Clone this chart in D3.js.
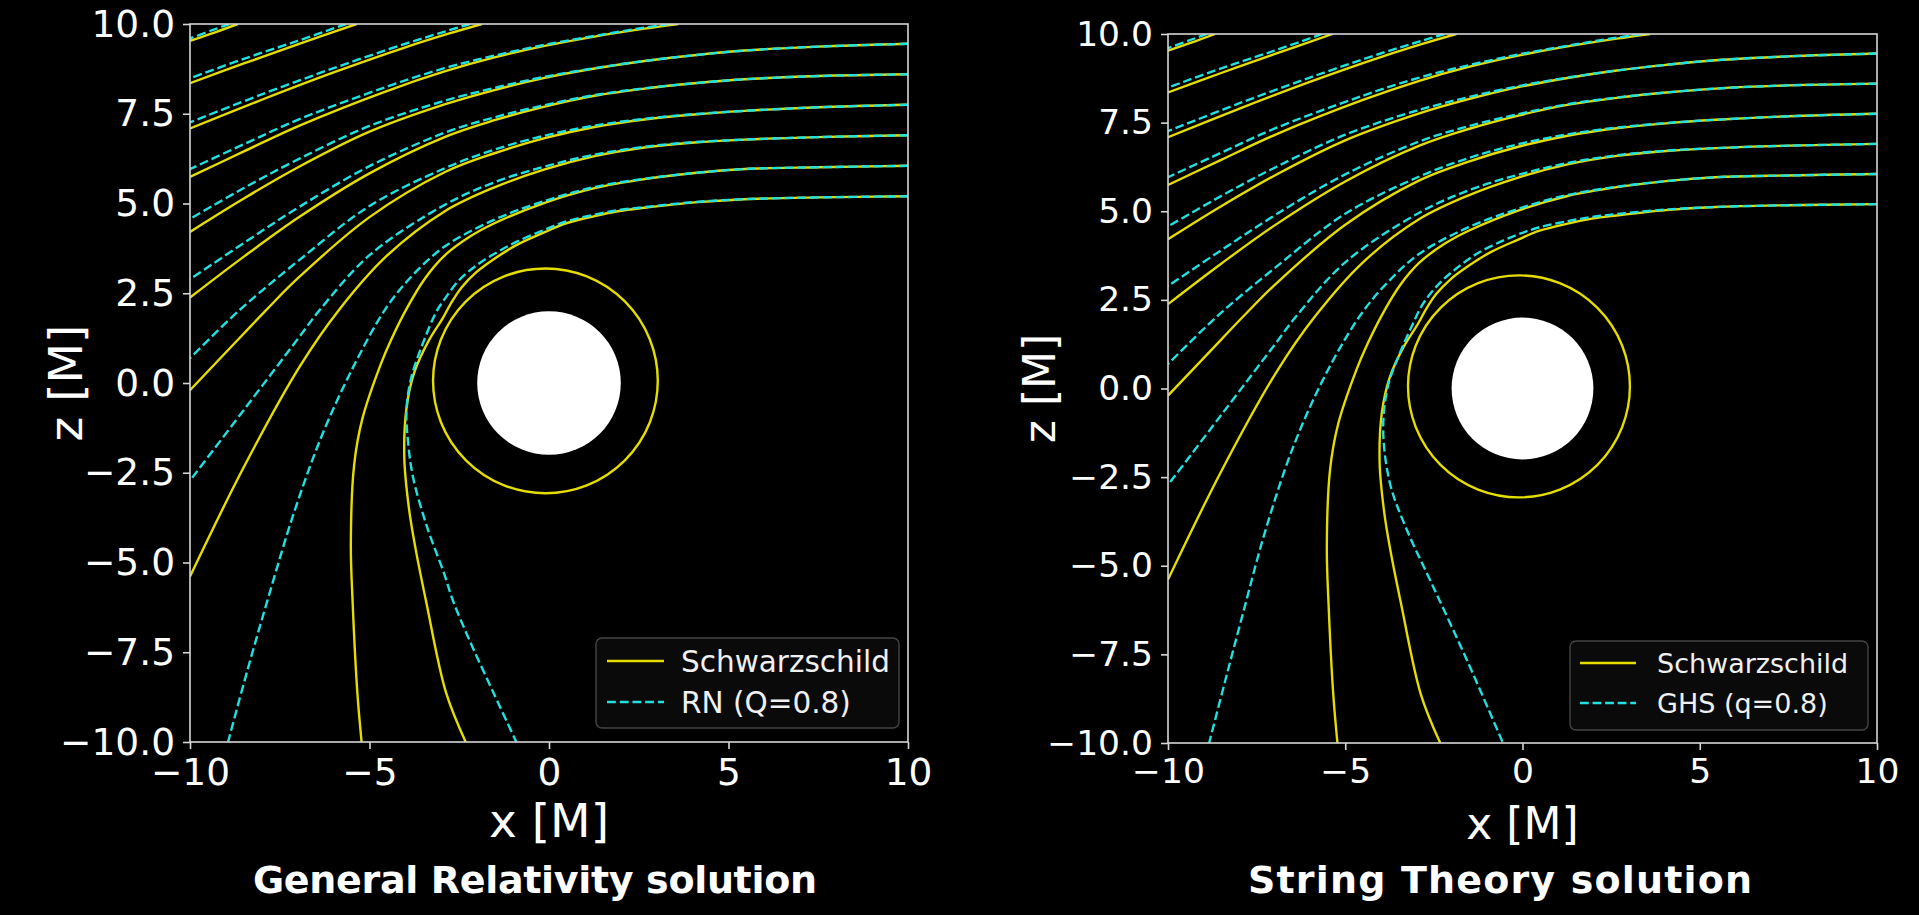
<!DOCTYPE html>
<html>
<head>
<meta charset="utf-8">
<script src="https://cdn.jsdelivr.net/npm/d3@7"></script>
<style>
  html, body { margin: 0; padding: 0; background: #000; }
  svg { display: block; }
</style>
</head>
<body>
<svg id="fig" width="1919" height="915"></svg>
<script>
// ---------------- DATA (units of M) ----------------
const xTicks = [-10, -5, 0, 5, 10];
const zTicks = [10, 7.5, 5, 2.5, 0, -2.5, -5, -7.5, -10];
const horizonRadius = 2;
// nearly circular orbit of the Schwarzschild b≈5.2 ray (centre x, centre z, radius)
const photonOrbit = { cx: -0.1, cz: 0.06, r: 3.13 };

const panelTitles = ["General Relativity solution", "String Theory solution"];
const legendLabelsGR = ["Schwarzschild", "RN (Q=0.8)"];
const legendLabelsST = ["Schwarzschild", "GHS (q=0.8)"];

// Schwarzschild rays (yellow), each [x, z] — same in both panels
const schw1 = [[10,5.2],[7.5,5.17],[5.45,5.12],[4.05,5.03],[2.66,4.88],[1.96,4.79],[1.27,4.65],[0.48,4.45],[-0.12,4.2],[-0.91,3.84],[-1.52,3.46],[-2.03,3.08],[-2.43,2.67],[-2.72,2.24],[-2.95,1.82],
  [-3.35,1.18],[-3.75,0.3],[-3.97,-0.7],[-4.03,-2.1],[-3.9,-3.5],[-3.72,-4.6],[-3.42,-6.1],[-2.87,-8.62],[-2.32,-10]];
const schw2 = [[10,6.05],[7.5,6.01],[5.45,5.96],[4.05,5.85],[2.66,5.68],[1.27,5.43],[-0.12,5.02],[-1.52,4.45],[-2.2,4.08],[-2.91,3.55],[-3.45,2.92],[-3.95,2.1],[-4.4,1.2],[-4.68,0.54],[-5.2,-1.0],[-5.43,-2.3],[-5.52,-4.5],[-5.47,-6.1],[-5.34,-8.6],[-5.22,-10]];
const schw3 = [[10,6.9],[7.5,6.85],[5.45,6.78],[4.05,6.7],[2.66,6.56],[1.27,6.32],[-0.12,5.95],[-1.52,5.45],[-2.91,4.78],[-4.5,3.56],[-5.84,2.05],[-6.95,0.45],[-8.5,-2.34],[-10,-5.39]];
const schw4 = [[10,7.75],[7.5,7.68],[5.45,7.58],[4.05,7.48],[2.66,7.34],[1.27,7.13],[-0.12,6.82],[-1.52,6.4],[-2.91,5.87],[-5,4.62],[-6.95,2.96],[-7.88,2.03],[-8.5,1.38],[-10,-0.2]];
const schw5 = [[10,8.6],[7.5,8.55],[5.45,8.46],[4.05,8.35],[2.66,8.2],[1.27,8.0],[-0.12,7.7],[-1.52,7.32],[-2.91,6.85],[-5,5.84],[-6.95,4.63],[-8.5,3.52],[-10,2.38]];
const schw6 = [[10,9.45],[7.5,9.37],[5.45,9.26],[4.05,9.13],[2.66,8.97],[1.27,8.76],[-0.12,8.5],[-1.52,8.16],[-2.91,7.76],[-5,7.0],[-6.95,6.03],[-8.5,5.14],[-10,4.21]];
const schw7 = [[3.6,10],[2.66,9.87],[1.27,9.65],[-0.12,9.39],[-1.52,9.07],[-2.91,8.68],[-4.5,8.14],[-6.95,7.17],[-8.5,6.45],[-10,5.74]];
const schw8 = [[-1.87,10],[-2.8,9.73],[-4,9.35],[-6,8.65],[-8,7.89],[-10,7.09]];
const schw9 = [[-5.36,10],[-7,9.43],[-8.5,8.9],[-10,8.35]];
const schw10 = [[-8.67,10],[-9.3,9.77],[-10,9.53]];
const schwarzschildRays = [schw1, schw2, schw3, schw4, schw5, schw6, schw7, schw8, schw9, schw10];

// Reissner–Nordström Q=0.8 rays (cyan dashed, left panel)
const rn1 = [[10,5.2],[7.5,5.17],[5.45,5.12],[4.05,5.04],[2.66,4.9],[1.96,4.82],[1.27,4.69],[0.48,4.5],[-0.12,4.27],[-0.91,3.93],[-1.52,3.6],[-2.03,3.27],[-2.5,2.87],[-2.9,2.35],[-3.14,1.98],[-3.51,1.11],[-3.85,0.1],[-3.97,-0.8],[-3.93,-1.6],[-3.79,-2.61],[-3.4,-4.0],[-2.92,-5.31],[-2.68,-6.05],[-2.2,-7.2],[-1.55,-8.62],[-0.91,-10]];
const rn2 = [[10,6.05],[7.5,6.01],[5.45,5.96],[4.05,5.85],[2.66,5.69],[1.27,5.46],[-0.12,5.07],[-1.52,4.55],[-2.91,3.8],[-3.8,3.0],[-4.53,2.1],[-5.4,0.55],[-6.3,-1.4],[-7.1,-3.6],[-7.84,-6.05],[-8.4,-8.0],[-8.94,-10]];
const rn3 = [[10,6.9],[7.5,6.85],[5.45,6.78],[4.05,6.71],[2.66,6.58],[1.27,6.36],[-0.12,6.03],[-1.52,5.59],[-2.91,4.96],[-5,3.56],[-6.39,2.03],[-6.95,1.29],[-8.5,-0.75],[-10,-2.72]];
const rn4 = [[10,7.75],[7.5,7.68],[5.45,7.58],[4.05,7.49],[2.66,7.36],[1.27,7.17],[-0.12,6.89],[-1.52,6.5],[-2.91,5.98],[-5,4.93],[-6.95,3.43],[-8.62,2.03],[-10,0.69]];
const rn5 = [[10,8.6],[7.5,8.55],[5.45,8.46],[4.05,8.35],[2.66,8.21],[1.27,8.02],[-0.12,7.74],[-1.52,7.4],[-2.91,6.97],[-5,6.04],[-6.95,4.91],[-8.5,3.9],[-10,2.89]];
const rn6 = [[10,9.45],[7.5,9.37],[5.45,9.26],[4.05,9.13],[2.66,8.97],[1.27,8.77],[-0.12,8.53],[-1.52,8.22],[-2.91,7.86],[-5,7.16],[-6.95,6.25],[-8.5,5.43],[-10,4.57]];
const rn7 = [[3.35,10],[2.66,9.9],[1.27,9.67],[-0.12,9.42],[-1.52,9.12],[-2.91,8.77],[-4.5,8.26],[-6.95,7.35],[-8.5,6.65],[-10,5.96]];
const rn8 = [[-2.2,10],[-2.8,9.82],[-4,9.45],[-6,8.77],[-8,8.04],[-10,7.26]];
const rn9 = [[-5.65,10],[-7,9.53],[-8.5,9.03],[-10,8.49]];
const rn10 = [[-8.9,10],[-9.4,9.82],[-10,9.6]];
const rnRays = [rn1, rn2, rn3, rn4, rn5, rn6, rn7, rn8, rn9, rn10];

// GHS q=0.8 rays (cyan dashed, right panel) — outer rays coincide with RN ones
const ghs1 = [[10,5.2],[7.5,5.17],[5.45,5.12],[4.05,5.05],[2.66,4.92],[1.96,4.84],[1.27,4.72],[0.48,4.55],[0.02,4.4],[-0.6,4.15],[-1.29,3.8],[-1.85,3.4],[-2.33,2.98],[-2.8,2.4],[-3.15,1.7],[-3.5,0.9],[-3.8,0.05],[-3.93,-1.17],[-3.74,-2.67],[-3.3,-3.9],[-2.52,-5.59],[-1.55,-7.7],[-0.55,-10]];
const ghs2 = [[10,6.05],[7.5,6.01],[5.45,5.96],[4.05,5.85],[2.66,5.69],[1.27,5.46],[-0.12,5.07],[-1.52,4.55],[-2.91,3.8],[-3.8,3.0],[-4.55,2.1],[-5.5,0.5],[-6.45,-1.6],[-7.25,-4.0],[-7.9,-6.4],[-8.4,-8.3],[-8.84,-10]];
const ghsRays = [ghs1, ghs2, rn3, rn4, rn5, rn6, rn7, rn8, rn9, rn10];

// ---------------- STYLE / LAYOUT ----------------
const YELLOW = "#e6dd00";
const CYAN = "#22e0e0";
const TEXT = "#ffffff";
const SPINE = "#d6d6d6";
const FONT = "'DejaVu Sans', sans-serif";

const panels = [
  { id: "gr", left: 190, top: 24, size: 718, cyan: rnRays, legend: legendLabelsGR, title: panelTitles[0],
    tickFs: 37.5, labelFs: 47, legendFs: 29.5, titleFs: 38, titleLen: 564,
    zLabelX: 65, xLabelBase: 837, titleX: 535, titleBase: 893,
    legendBox: [596, 638, 303, 90], legendLine: [607, 664], legendText: 681, legendRows: [661, 702] },
  { id: "st", left: 1168, top: 34, size: 709, cyan: ghsRays, legend: legendLabelsST, title: panelTitles[1],
    tickFs: 34.5, labelFs: 44, legendFs: 27, titleFs: 38, titleLen: 504,
    zLabelX: 1039, xLabelBase: 839, titleX: 1500, titleBase: 893,
    legendBox: [1570, 641, 298, 89], legendLine: [1580, 1636], legendText: 1657, legendRows: [663, 703] }
];

const svg = d3.select("#fig");
svg.append("rect").attr("width", 1919).attr("height", 915).attr("fill", "#000");

panels.forEach(cfg => {
  const x = d3.scaleLinear().domain([-10, 10]).range([cfg.left, cfg.left + cfg.size]);
  const y = d3.scaleLinear().domain([-10, 10]).range([cfg.top + cfg.size, cfg.top]);
  const lw = 2.4 * cfg.size / 718;
  const dash = `${3.7 * lw},${1.6 * lw}`;

  const clipId = "clip-" + cfg.id;
  svg.append("clipPath").attr("id", clipId).append("rect")
    .attr("x", cfg.left).attr("y", cfg.top).attr("width", cfg.size).attr("height", cfg.size);

  const plot = svg.append("g").attr("clip-path", `url(#${clipId})`);
  const line = d3.line().x(d => x(d[0])).y(d => y(d[1])).curve(d3.curveCatmullRom.alpha(0.5));

  // event horizon
  plot.append("ellipse")
    .attr("cx", x(0)).attr("cy", y(0))
    .attr("rx", x(horizonRadius) - x(0)).attr("ry", y(0) - y(horizonRadius))
    .attr("fill", "#ffffff");

  // orbit loop of the near-critical Schwarzschild ray
  plot.append("ellipse")
    .attr("cx", x(photonOrbit.cx)).attr("cy", y(photonOrbit.cz))
    .attr("rx", x(photonOrbit.r) - x(0)).attr("ry", y(0) - y(photonOrbit.r))
    .attr("fill", "none").attr("stroke", YELLOW).attr("stroke-width", lw);

  plot.selectAll("path.schw").data(schwarzschildRays).join("path")
    .attr("class", "schw").attr("d", line)
    .attr("fill", "none").attr("stroke", YELLOW).attr("stroke-width", lw)
    .attr("stroke-linejoin", "round");

  plot.selectAll("path.alt").data(cfg.cyan).join("path")
    .attr("class", "alt").attr("d", line)
    .attr("fill", "none").attr("stroke", CYAN).attr("stroke-width", lw)
    .attr("stroke-dasharray", dash);

  // axes
  const xAxis = d3.axisBottom(x).tickValues(xTicks).tickSize(7).tickPadding(9).tickFormat(d3.format("d"));
  const yAxis = d3.axisLeft(y).tickValues(zTicks).tickSize(7).tickPadding(8).tickFormat(d3.format(".1f"));
  const gx = svg.append("g").attr("transform", `translate(0,${cfg.top + cfg.size})`).call(xAxis);
  const gy = svg.append("g").attr("transform", `translate(${cfg.left},0)`).call(yAxis);
  [gx, gy].forEach(g => {
    g.select(".domain").remove();
    g.selectAll(".tick line").attr("stroke", SPINE).attr("stroke-width", 1.6);
    g.selectAll(".tick text").attr("fill", TEXT).style("font-family", FONT).style("font-size", cfg.tickFs + "px");
  });

  svg.append("rect")
    .attr("x", cfg.left).attr("y", cfg.top).attr("width", cfg.size).attr("height", cfg.size)
    .attr("fill", "none").attr("stroke", SPINE).attr("stroke-width", 1.6);

  // axis labels
  svg.append("text").attr("x", x(0)).attr("y", cfg.xLabelBase)
    .attr("text-anchor", "middle").attr("fill", TEXT)
    .style("font-family", FONT).style("font-size", cfg.labelFs + "px").text("x [M]");
  svg.append("text")
    .attr("transform", `translate(${cfg.zLabelX},${y(0)}) rotate(-90)`)
    .attr("text-anchor", "middle").attr("dy", "0.36em").attr("fill", TEXT)
    .style("font-family", FONT).style("font-size", cfg.labelFs + "px").text("z [M]");

  // legend
  const [bx, by, bw, bh] = cfg.legendBox;
  const lg = svg.append("g");
  lg.append("rect").attr("x", bx).attr("y", by).attr("width", bw).attr("height", bh)
    .attr("rx", 6).attr("fill", "#0a0a0a").attr("stroke", "#444").attr("stroke-width", 1.4);
  const styles = [{ stroke: YELLOW, dash: null }, { stroke: CYAN, dash: dash }];
  cfg.legend.forEach((lab, i) => {
    const ry = cfg.legendRows[i];
    lg.append("line").attr("x1", cfg.legendLine[0]).attr("x2", cfg.legendLine[1])
      .attr("y1", ry).attr("y2", ry)
      .attr("stroke", styles[i].stroke).attr("stroke-width", lw)
      .attr("stroke-dasharray", styles[i].dash);
    lg.append("text").attr("x", cfg.legendText).attr("y", ry).attr("dy", "0.36em")
      .attr("fill", "#f0f0f0").style("font-family", FONT).style("font-size", cfg.legendFs + "px").text(lab);
  });

  // panel title
  svg.append("text").attr("x", cfg.titleX).attr("y", cfg.titleBase)
    .attr("text-anchor", "middle").attr("fill", TEXT)
    .attr("textLength", cfg.titleLen).attr("lengthAdjust", "spacing")
    .style("font-family", FONT).style("font-weight", "bold").style("font-size", cfg.titleFs + "px")
    .text(cfg.title);
});
</script>
</body>
</html>
